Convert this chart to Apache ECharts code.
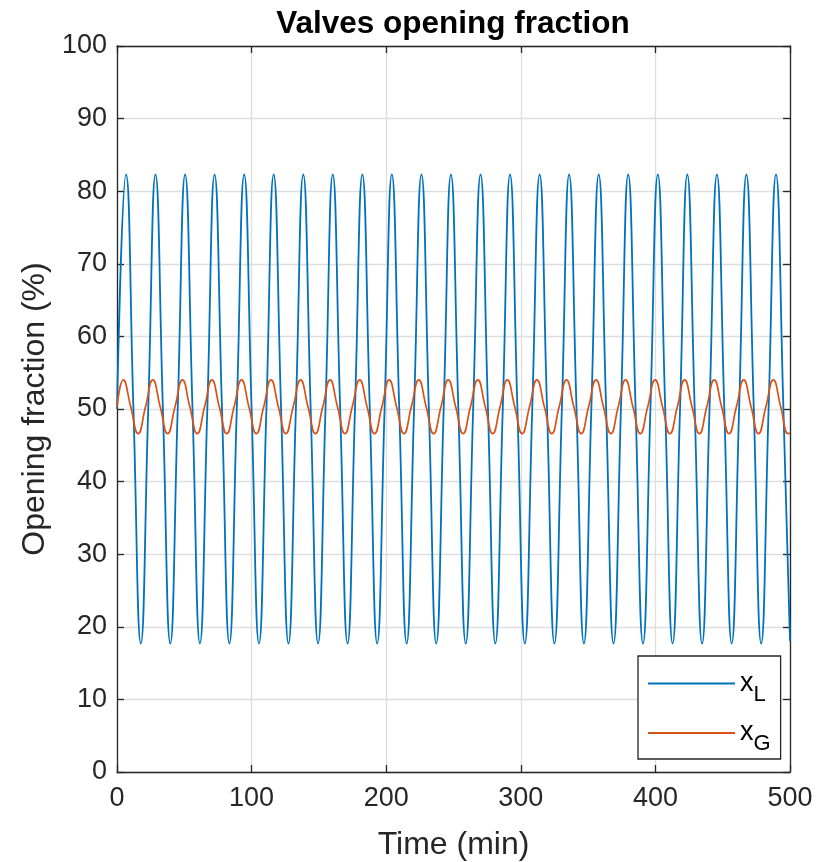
<!DOCTYPE html>
<html>
<head>
<meta charset="utf-8">
<title>Valves opening fraction</title>
<script src="https://cdn.jsdelivr.net/npm/echarts@6/dist/echarts.min.js"></script>
<style>
    html, body { margin: 0; padding: 0; background: #fff; }
    #chart1 { width: 818px; height: 862px; }
</style>
</head>
<body>
<div id="chart1"></div>
<script>
// x_L (blue): times of peaks, troughs and 50% crossings
var blueCrossT = [0, 12.2, 23.2, 34.1, 45.1, 56.1, 67.1, 78.0, 89.0, 100.0, 111.0, 121.9, 132.9, 143.9, 154.9,
    165.8, 176.8, 187.8, 198.8, 209.7, 220.7, 231.7, 242.7, 253.6, 264.6, 275.6, 286.6, 297.5, 308.5,
    319.5, 330.5, 341.4, 352.4, 363.4, 374.4, 385.3, 396.3, 407.3, 418.3, 429.2, 440.2, 451.2, 462.2,
    473.1, 484.1, 495.1];
var bluePeakT = [6.7, 28.6, 50.6, 72.5, 94.5, 116.4, 138.4, 160.3, 182.3, 204.2, 226.2, 248.1, 270.1,
    292.0, 314.0, 335.9, 357.9, 379.8, 401.8, 423.7, 445.7, 467.6, 489.6];
var blueTroughT = [17.7, 39.6, 61.6, 83.5, 105.5, 127.4, 149.4, 171.3, 193.3, 215.2, 237.2, 259.1, 281.1,
    303.0, 325.0, 346.9, 368.9, 390.8, 412.8, 434.7, 456.7, 478.6];
var blueLevels = { mid: 50, peak: 82.3, trough: 17.7 };
var blueEnd = [500, 18.0];

// x_G (orange)
var orangeCrossT = [0, 10.2, 21.2, 32.1, 43.1, 54.1, 65.1, 76.0, 87.0, 98.0, 109.0, 119.9, 130.9, 141.9,
    152.9, 163.8, 174.8, 185.8, 196.8, 207.7, 218.7, 229.7, 240.7, 251.6, 262.6, 273.6, 284.6, 295.5,
    306.5, 317.5, 328.5, 339.4, 350.4, 361.4, 372.4, 383.3, 394.3, 405.3, 416.3, 427.2, 438.2, 449.2,
    460.2, 471.1, 482.1, 493.1];
var orangePeakT = [4.7, 26.6, 48.6, 70.5, 92.5, 114.4, 136.4, 158.3, 180.3, 202.2, 224.2, 246.1, 268.1,
    290.0, 312.0, 333.9, 355.9, 377.8, 399.8, 421.7, 443.7, 465.6, 487.6];
var orangeTroughT = [15.7, 37.6, 59.6, 81.5, 103.5, 125.4, 147.4, 169.3, 191.3, 213.2, 235.2, 257.1, 279.1,
    301.0, 323.0, 344.9, 366.9, 388.8, 410.8, 432.7, 454.7, 476.6, 498.6];
var orangeLevels = { mid: 50.3, peak: 54.0, trough: 46.6 };
var orangeEnd = [500, 46.7];

var xTicks = [0, 100, 200, 300, 400, 500];
var yTicks = [0, 10, 20, 30, 40, 50, 60, 70, 80, 90, 100];

init();

function buildSeries(cross, peaks, troughs, lv, end) {
    var pts = [];
    cross.forEach(function (t) { pts.push([t, lv.mid]); });
    peaks.forEach(function (t) { pts.push([t, lv.peak]); });
    troughs.forEach(function (t) { pts.push([t, lv.trough]); });
    pts.push(end);
    pts.sort(function (a, b) { return a[0] - b[0]; });
    return pts;
}

function init() {
    var mychart = echarts.init(document.getElementById("chart1"));
    var axisColor = "#262626";
    var font = "Liberation Sans, Arial, sans-serif";

    var boxAxis = {
        min: 0,
        axisLine: { show: true, onZero: false, lineStyle: { color: axisColor, width: 1.3 } },
        axisTick: { show: true, inside: true, length: 7, lineStyle: { color: axisColor, width: 1.3 } },
        axisLabel: { show: false },
        splitLine: { show: false }
    };

    var option = {
        animation: false,
        title: {
            text: "Valves opening fraction",
            left: 448,
            textAlign: "center",
            top: 3,
            textStyle: { color: "#000", fontWeight: "bold", fontSize: 31.5, fontFamily: font }
        },
        grid: { left: 117, right: 28, top: 46, bottom: 90, outerBoundsMode: "none", containLabel: false },
        legend: {
            left: 638,
            top: 656,
            orient: "vertical",
            itemWidth: 87,
            itemHeight: 14,
            itemGap: 14,
            padding: [14, 10, 4, 9],
            backgroundColor: "#fff",
            borderColor: axisColor,
            borderWidth: 1.3,
            borderRadius: 0,
            itemStyle: { opacity: 0 },
            data: ["xL", "xG"],
            formatter: function (name) {
                return "{a|x}{b|" + name.charAt(1) + "}";
            },
            textStyle: {
                color: "#000",
                fontFamily: font,
                rich: {
                    a: { fontSize: 27, fontFamily: font, color: "#000", lineHeight: 44 },
                    b: { fontSize: 22, fontFamily: font, color: "#000", lineHeight: 44, verticalAlign: "bottom" }
                }
            }
        },
        xAxis: [Object.assign({}, boxAxis, {
            type: "value",
            max: 500,
            interval: 100,
            position: "bottom",
            name: "Time (min)",
            nameLocation: "middle",
            nameGap: 57,
            nameTextStyle: { color: axisColor, fontSize: 32, fontFamily: font },
            axisLabel: { show: true, color: axisColor, fontSize: 27, fontFamily: font, margin: 13,
                formatter: function (v) { return xTicks.indexOf(v) >= 0 ? String(v) : ""; } },
            splitLine: { show: true, lineStyle: { color: "#dedede", width: 1.3 } }
        }), Object.assign({}, boxAxis, {
            type: "value",
            max: 500,
            interval: 100,
            position: "top"
        })],
        yAxis: [Object.assign({}, boxAxis, {
            type: "value",
            max: 100,
            interval: 10,
            position: "left",
            name: "Opening fraction (%)",
            nameLocation: "middle",
            nameGap: 63,
            nameTextStyle: { color: axisColor, fontSize: 32, fontFamily: font },
            axisLabel: { show: true, color: axisColor, fontSize: 27, fontFamily: font, margin: 10,
                formatter: function (v) { return yTicks.indexOf(v) >= 0 ? String(v) : ""; } },
            splitLine: { show: true, lineStyle: { color: "#dedede", width: 1.3 } }
        }), Object.assign({}, boxAxis, {
            type: "value",
            max: 100,
            interval: 10,
            position: "right"
        })],
        series: [
            {
                name: "xL",
                type: "line",
                xAxisIndex: 0,
                yAxisIndex: 0,
                symbol: "none",
                smooth: 0.5,
                lineStyle: { color: "#0072BD", width: 1.8 },
                itemStyle: { color: "#0072BD" },
                data: buildSeries(blueCrossT, bluePeakT, blueTroughT, blueLevels, blueEnd)
            },
            {
                name: "xG",
                type: "line",
                xAxisIndex: 0,
                yAxisIndex: 0,
                symbol: "none",
                smooth: 0.5,
                lineStyle: { color: "#D95319", width: 1.7 },
                itemStyle: { color: "#D95319" },
                data: buildSeries(orangeCrossT, orangePeakT, orangeTroughT, orangeLevels, orangeEnd)
            }
        ]
    };
    mychart.setOption(option);
}
</script>
</body>
</html>
